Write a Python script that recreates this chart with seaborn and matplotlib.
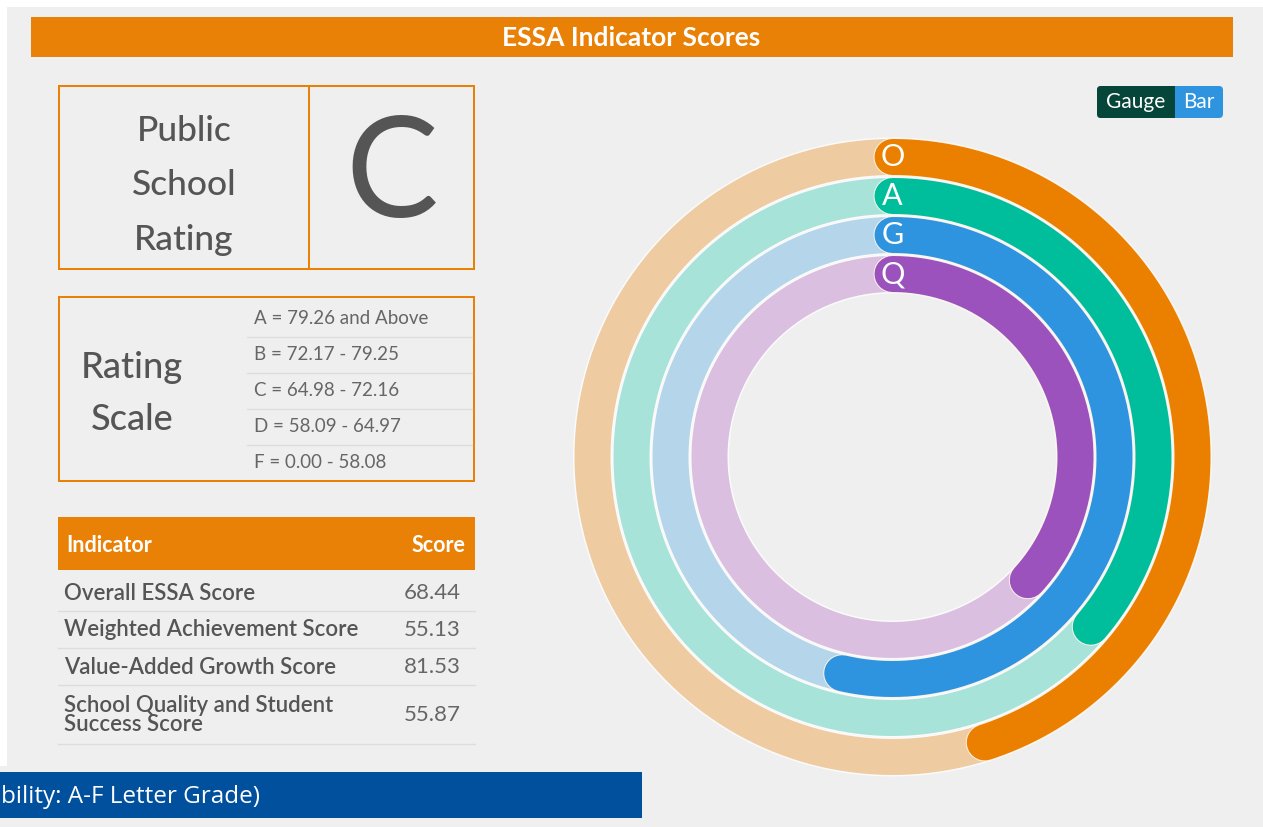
import matplotlib

matplotlib.use("Agg")

import matplotlib.patheffects as pe
import matplotlib.pyplot as plt
import numpy as np
import pandas as pd
import seaborn as sns
from matplotlib.patches import FancyBboxPatch, Rectangle

# ---- data ----
TITLE = "ESSA Indicator Scores"
GRADE = "C"
SCALE_LABELS = [
    "A = 79.26 and Above",
    "B = 72.17 - 79.25",
    "C = 64.98 - 72.16",
    "D = 58.09 - 64.97",
    "F = 0.00 - 58.08",
]
INDICATORS = [
    "Overall ESSA Score",
    "Weighted Achievement Score",
    "Value-Added Growth Score",
    "School Quality and Student\nSuccess Score",
]
SCORES = [68.44, 55.13, 81.53, 55.87]
GAUGE_LETTERS = ["O", "A", "G", "Q"]
FOOTER = "bility: A-F Letter Grade)"

# ---- styling ----
W, H = 1263, 827
DPI = 100
BG = "#efefef"
ORANGE = "#ea8107"
TEXT = "#555555"
ARC_COLORS = ["#eb8000", "#00be9b", "#2f94df", "#9c52bc"]
TRACK_COLORS = ["#efcba2", "#a8e3d9", "#b5d5eb", "#dabfe1"]
RING_RADII = [300, 261, 222, 183]
RING_WIDTH = 36
GAUGE_MAX = 152
CENTER = (892.5, 457)
PX = 72 / DPI  # pixels -> points

sns.set_theme(style="white")
plt.rcParams["font.family"] = ["Lato", "DejaVu Sans"]

fig = plt.figure(figsize=(W / DPI, H / DPI), dpi=DPI)
fig.patch.set_facecolor(BG)

ax = fig.add_axes([0, 0, 1, 1])
ax.set_xlim(0, W)
ax.set_ylim(H, 0)
ax.axis("off")

# white page edges around the panel
ax.add_patch(Rectangle((0, 0), W, 7, color="white", lw=0))
ax.add_patch(Rectangle((0, 0), 7, 766, color="white", lw=0))

# title bar
ax.add_patch(Rectangle((31, 17), 1202, 40, color=ORANGE, lw=0))
ax.text(631, 38, TITLE, color="white", fontsize=19, fontweight="bold",
        ha="center", va="center")

# public school rating box
ax.add_patch(Rectangle((59, 86), 415, 183, fill=False, ec=ORANGE, lw=2 * PX))
ax.plot([309, 309], [86, 269], color=ORANGE, lw=2 * PX)
for y, word in zip([131, 185, 240], ["Public", "School", "Rating"]):
    ax.text(184, y, word, color=TEXT, fontsize=25.5, ha="center", va="center",
            fontweight="medium")
ax.text(392, 178, GRADE, color=TEXT, fontsize=100, ha="center", va="center")

# rating scale box
ax.add_patch(Rectangle((59, 297), 415, 184, fill=False, ec=ORANGE, lw=2 * PX))
ax.text(132, 367, "Rating", color=TEXT, fontsize=26, ha="center", va="center",
        fontweight="medium")
ax.text(132, 420, "Scale", color=TEXT, fontsize=26, ha="center", va="center",
        fontweight="medium")
scale_y = np.linspace(319, 463, len(SCALE_LABELS))
for i, (y, label) in enumerate(zip(scale_y, SCALE_LABELS)):
    ax.text(254, y, label, color="#666666", fontsize=13.5, ha="left", va="center")
    if i < len(SCALE_LABELS) - 1:
        ax.plot([247, 472], [y + 18, y + 18], color="#dddddd", lw=1)

# indicator table
ax.add_patch(Rectangle((58, 517), 417, 53, color=ORANGE, lw=0))
ax.text(66, 545, "Indicator", color="white", fontsize=15.5, fontweight="bold",
        ha="left", va="center")
ax.text(465, 545, "Score", color="white", fontsize=15.5, fontweight="bold",
        ha="right", va="center")
row_y = [593, 630, 667, 715]
row_bottom = [611, 648, 685, 744]
for name, score, y, yb in zip(INDICATORS, SCORES, row_y, row_bottom):
    ax.text(64, y, name, color=TEXT, fontsize=16, ha="left", va="center",
            linespacing=0.85, fontweight="semibold")
    ax.text(461, y, f"{score:.2f}", color="#666666", fontsize=16,
            ha="right", va="center")
    ax.plot([58, 475], [yb, yb], color="#dddddd", lw=1)

# gauge / bar toggle
ax.add_patch(FancyBboxPatch((1097, 86), 126, 32, boxstyle="round,pad=0,rounding_size=4",
                            color="#2f94df", lw=0))
ax.add_patch(FancyBboxPatch((1097, 86), 78, 32, boxstyle="round,pad=0,rounding_size=4",
                            color="#06463a", lw=0))
ax.add_patch(Rectangle((1165, 86), 10, 32, color="#06463a", lw=0))
ax.text(1136, 102, "Gauge", color="white", fontsize=15, ha="center", va="center")
ax.text(1199, 102, "Bar", color="white", fontsize=15, ha="center", va="center")

# footer bar
ax.add_patch(Rectangle((0, 772), 642, 46, color="#00509e", lw=0))
ax.text(1, 797, FOOTER, color="white", fontsize=17.5, ha="left", va="center",
        family=["Open Sans", "DejaVu Sans"])

# ---- radial gauge on a polar axes, radius units = pixels ----
R = 330
cx, cy = CENTER
pax = fig.add_axes([(cx - R) / W, (H - cy - R) / H, 2 * R / W, 2 * R / H],
                   projection="polar")
pax.set_theta_zero_location("N")
pax.set_theta_direction(-1)
pax.set_ylim(0, R)
pax.axis("off")
pax.patch.set_alpha(0)

full = np.linspace(0, 2 * np.pi, 400)
for r, track in zip(RING_RADII, TRACK_COLORS):
    pax.plot(full, np.full_like(full, r), color="#fbfbfb",
             lw=(RING_WIDTH + 3) * PX, solid_capstyle="butt")
    pax.plot(full, np.full_like(full, r), color=track,
             lw=RING_WIDTH * PX, solid_capstyle="butt")

for letter, score, r, color in zip(GAUGE_LETTERS, SCORES, RING_RADII, ARC_COLORS):
    theta = np.linspace(0, score / GAUGE_MAX * 2 * np.pi, 300)
    arc = pd.DataFrame({"theta": theta, "r": r})
    sns.lineplot(data=arc, x="theta", y="r", ax=pax, color=color,
                 lw=RING_WIDTH * PX, solid_capstyle="round",
                 estimator=None, sort=False, legend=False,
                 path_effects=[pe.withStroke(linewidth=(RING_WIDTH + 2) * PX,
                                             foreground="#fbf3ea")])
    pax.text(0, r, letter, color="white", fontsize=22, ha="center",
             va="center", zorder=5)

pax.set_xlabel("")
pax.set_ylabel("")

fig.savefig("out.png", dpi=DPI, facecolor=fig.get_facecolor())
